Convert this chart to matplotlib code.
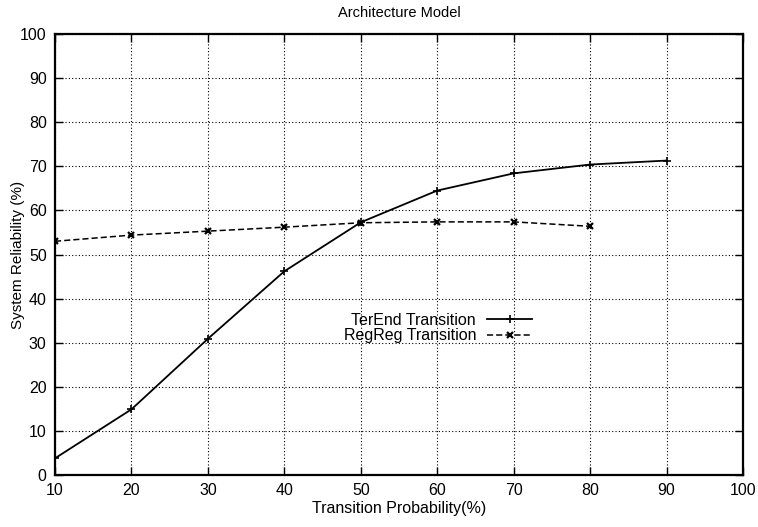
import matplotlib
matplotlib.use('Agg')
import matplotlib.pyplot as plt

plt.rcParams['font.family'] = ['Liberation Sans', 'DejaVu Sans']

prob = [10, 20, 30, 40, 50, 60, 70, 80, 90]
terend = [3.8, 14.9, 30.9, 46.2, 57.3, 64.5, 68.4, 70.4, 71.3]
prob_reg = [10, 20, 30, 40, 50, 60, 70, 80]
regreg = [53.0, 54.4, 55.3, 56.2, 57.2, 57.4, 57.4, 56.4]

fig = plt.figure(figsize=(7.58, 5.27), dpi=100)
ax = fig.add_axes([0.0726, 0.0986, 0.9076, 0.8369])

ax.plot(prob, terend, color='black', linestyle='-', linewidth=1.3,
        marker='+', markersize=6, markeredgewidth=1.2, label='TerEnd Transition')
ax.plot(prob_reg, regreg, color='black', linestyle=(0, (4, 2)), linewidth=1.1,
        marker='x', markersize=5, markeredgewidth=1.6, label='RegReg Transition')

ax.set_xlim(10, 100)
ax.set_ylim(0, 100)
ax.set_xticks(range(10, 101, 10))
ax.set_yticks(range(0, 101, 10))
ax.tick_params(direction='in', top=True, right=True, length=6, width=1,
               labelsize=11.5, pad=6)
ax.grid(True, linestyle=(0, (1, 2)), color='black', linewidth=0.8)
for s in ax.spines.values():
    s.set_linewidth(1.6)

ax.set_title('Architecture Model', fontsize=10.5, pad=12)
ax.set_xlabel('Transition Probability(%)', fontsize=11.5, labelpad=2)
ax.set_ylabel('System Reliability (%)', fontsize=11)
ax.yaxis.set_label_coords(-(55 - 25) / 688, 0.5)

leg = ax.legend(loc='center right', bbox_to_anchor=(540 / 758, 1 - 328 / 527),
                bbox_transform=fig.transFigure, frameon=False, markerfirst=False,
                fontsize=11.5, handlelength=2.8, handletextpad=0.7,
                labelspacing=0.05, borderpad=0.0)
for t in leg.get_texts():
    t.set_ha('right')

fig.savefig('out.png', dpi=100)
